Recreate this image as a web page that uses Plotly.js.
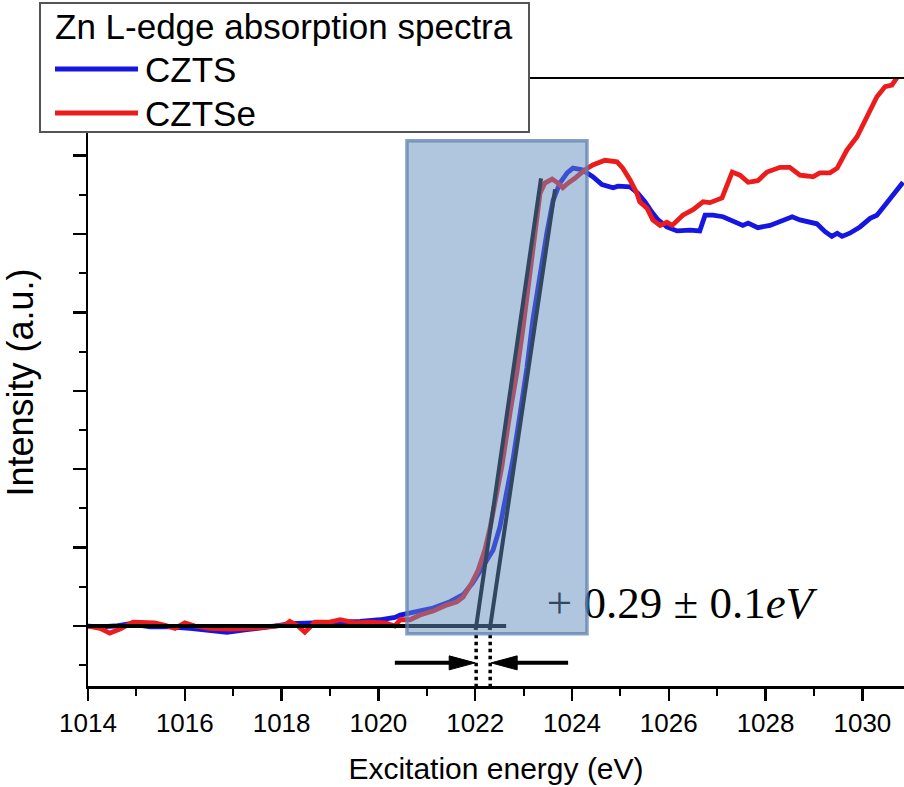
<!DOCTYPE html>
<html>
<head>
<meta charset="utf-8">
<script src="https://cdn.plot.ly/plotly-3.0.1.min.js"></script>
<style>
  html, body { margin: 0; padding: 0; background: #fff; }
  #chart { width: 904px; height: 787px; }
</style>
</head>
<body>
<div id="chart"></div>
<script>
// Zn L-edge XAS spectra (normalised intensity vs excitation energy)
const energyCZTS = [1014.0, 1014.25, 1014.56, 1014.87, 1015.28, 1015.69, 1016.11, 1016.52, 1016.87, 1017.24,
  1017.55, 1017.86, 1018.17, 1018.59, 1019.0, 1019.31, 1019.62, 1020.03, 1020.34, 1020.45,
  1020.71, 1021.13, 1021.48, 1021.75, 1021.95, 1022.16, 1022.37, 1022.51, 1022.66, 1022.78,
  1022.93, 1023.07, 1023.19, 1023.34, 1023.48, 1023.61, 1023.75, 1023.9, 1024.02, 1024.21,
  1024.31, 1024.43, 1024.62, 1024.74, 1024.85, 1024.95, 1025.2, 1025.36, 1025.51, 1025.65,
  1025.78, 1025.96, 1026.17, 1026.44, 1026.64, 1026.75, 1026.91, 1027.12, 1027.31, 1027.43,
  1027.53, 1027.64, 1027.84, 1028.09, 1028.36, 1028.55, 1028.71, 1029.06, 1029.23, 1029.37,
  1029.48, 1029.58, 1029.74, 1029.95, 1030.16, 1030.3, 1030.47, 1030.67, 1030.84];
const intensityCZTS = [0.0, -0.01, 0.0, 0.03, -0.01, -0.01, -0.03, -0.05, -0.08, -0.05,
  -0.03, 0.0, 0.03, 0.04, 0.04, 0.06, 0.06, 0.08, 0.11, 0.14,
  0.17, 0.23, 0.31, 0.4, 0.55, 0.75, 0.97, 1.26, 1.7, 2.12,
  2.72, 3.3, 3.9, 4.5, 5.01, 5.43, 5.65, 5.78, 5.84, 5.82,
  5.78, 5.73, 5.63, 5.61, 5.59, 5.61, 5.6, 5.52, 5.41, 5.28,
  5.18, 5.09, 5.04, 5.05, 5.04, 5.24, 5.24, 5.22, 5.17, 5.15,
  5.11, 5.14, 5.08, 5.11, 5.18, 5.22, 5.18, 5.13, 5.03, 4.97,
  5.01, 4.97, 5.01, 5.09, 5.2, 5.24, 5.37, 5.52, 5.66];

const energyCZTSe = [1014.0, 1014.25, 1014.45, 1014.66, 1014.93, 1015.22, 1015.38, 1015.59, 1015.8, 1016.0,
  1016.21, 1016.52, 1016.93, 1017.35, 1017.76, 1018.07, 1018.17, 1018.34, 1018.48, 1018.69,
  1019.0, 1019.21, 1019.52, 1019.83, 1020.14, 1020.34, 1020.45, 1020.65, 1020.86, 1021.13,
  1021.42, 1021.62, 1021.75, 1021.93, 1022.06, 1022.2, 1022.31, 1022.41, 1022.55, 1022.72,
  1022.86, 1022.99, 1023.13, 1023.24, 1023.34, 1023.44, 1023.59, 1023.71, 1023.81, 1023.92,
  1024.06, 1024.27, 1024.43, 1024.68, 1024.93, 1025.05, 1025.2, 1025.34, 1025.4, 1025.55,
  1025.67, 1025.82, 1025.96, 1026.07, 1026.29, 1026.5, 1026.71, 1026.85, 1027.0, 1027.1,
  1027.31, 1027.47, 1027.64, 1027.84, 1028.03, 1028.3, 1028.5, 1028.71, 1028.86, 1028.98,
  1029.12, 1029.33, 1029.48, 1029.68, 1029.89, 1030.1, 1030.3, 1030.47, 1030.61, 1030.71, 1030.84];
const intensityCZTSe = [0.0, -0.03, -0.09, -0.04, 0.05, 0.05, 0.04, 0.01, -0.03, 0.04,
  0.0, -0.03, -0.04, -0.03, 0.0, 0.01, 0.06, 0.0, -0.08, 0.05,
  0.05, 0.08, 0.04, 0.05, 0.04, 0.0, 0.08, 0.08, 0.14, 0.19,
  0.27, 0.31, 0.37, 0.55, 0.71, 0.97, 1.26, 1.61, 2.03, 2.72,
  3.23, 3.81, 4.5, 5.09, 5.52, 5.65, 5.7, 5.65, 5.59, 5.65,
  5.71, 5.82, 5.88, 5.94, 5.92, 5.84, 5.69, 5.52, 5.41, 5.33,
  5.18, 5.11, 5.15, 5.11, 5.24, 5.31, 5.41, 5.4, 5.43, 5.46,
  5.79, 5.75, 5.66, 5.68, 5.79, 5.85, 5.85, 5.75, 5.74, 5.73,
  5.78, 5.78, 5.84, 6.07, 6.24, 6.49, 6.75, 6.88, 6.9, 6.99, 7.3];

// Pre-edge baseline and linear fits of the leading edge
const baselineX = [1014.0, 1022.64];
const baselineY = [0, 0];
const edgeFitCZTSeX = [1022.01, 1023.36];
const edgeFitCZTSeY = [-0.05, 5.71];
const edgeFitCZTSX = [1022.30, 1023.65];
const edgeFitCZTSY = [-0.05, 5.57];

// Edge onsets (intercepts of the fits with the baseline), eV
const onsetEnergies = [1022.02, 1022.31];
const shiftLabel = '+ 0.29 ± 0.1<i>eV</i>';
const shiftLabelPos = [1023.48, 0.25];

// Highlighted edge window
const edgeWindowX = [1020.59, 1024.31];
const edgeWindowY = [-0.10, 6.19];

// Arrows pointing at the onsets: [tail, tip] in eV, at a common height
const arrowLeft = [1020.34, 1022.00];
const arrowRight = [1023.92, 1022.33];
const arrowLevel = -0.47;

const xRange = [1014, 1030.86];
const yRange = [-0.765, 6.977];
const xTickVals = [1014, 1016, 1018, 1020, 1022, 1024, 1026, 1028, 1030];

const W = 904, H = 787;
const M = { l: 88, r: 0, t: 79, b: 101 };
const plotW = W - M.l - M.r, plotH = H - M.t - M.b;
const evPerPx = (xRange[1] - xRange[0]) / plotW;
const unitPerPx = (yRange[1] - yRange[0]) / plotH;
const px2paperX = p => (p - M.l) / plotW;
const px2paperY = p => (H - M.b - p) / plotH;

const SANS = 'Liberation Sans, Arial, sans-serif';
const BLUE = '#1616e2';
const RED = '#ec1c1c';

const traces = [
  { x: energyCZTS, y: intensityCZTS, name: 'CZTS', mode: 'lines',
    line: { color: BLUE, width: 4.8 } },
  { x: energyCZTSe, y: intensityCZTSe, name: 'CZTSe', mode: 'lines',
    line: { color: RED, width: 4.8 } },
  { x: baselineX, y: baselineY, mode: 'lines', line: { color: '#000', width: 4 } },
  { x: edgeFitCZTSeX, y: edgeFitCZTSeY, mode: 'lines', line: { color: '#000', width: 4 } },
  { x: edgeFitCZTSX, y: edgeFitCZTSY, mode: 'lines', line: { color: '#000', width: 4 } },
  { x: [shiftLabelPos[0]], y: [shiftLabelPos[1]], mode: 'text', text: [shiftLabel],
    textposition: 'middle right',
    textfont: { family: 'Liberation Serif, Times New Roman, serif', size: 45, color: '#000' } }
];

const shapes = [];
// dotted drop lines from the onsets to the energy axis
onsetEnergies.forEach(e => {
  shapes.push({ type: 'line', xref: 'x', yref: 'y', x0: e, x1: e, y0: -0.11, y1: yRange[0],
    line: { color: '#000', width: 3.5, dash: 'dot' }, layer: 'above' });
});
// arrows
const headLen = 26 * evPerPx, headHalf = 7 * unitPerPx;
[arrowLeft, arrowRight].forEach(([tail, tip]) => {
  const dir = Math.sign(tip - tail);
  const base = tip - dir * headLen;
  shapes.push({ type: 'line', xref: 'x', yref: 'y', x0: tail, x1: base + dir * 2 * evPerPx,
    y0: arrowLevel, y1: arrowLevel, line: { color: '#000', width: 4 }, layer: 'above' });
  shapes.push({ type: 'path', xref: 'x', yref: 'y',
    path: `M${tip},${arrowLevel} L${base},${arrowLevel + headHalf} L${base},${arrowLevel - headHalf} Z`,
    fillcolor: '#000', line: { color: '#000', width: 1 }, layer: 'above' });
});
// translucent window over the edge region
shapes.push({ type: 'rect', xref: 'x', yref: 'y',
  x0: edgeWindowX[0], x1: edgeWindowX[1], y0: edgeWindowY[0], y1: edgeWindowY[1],
  fillcolor: 'rgba(98,140,190,0.5)', line: { color: 'rgba(95,130,178,0.75)', width: 3.5 },
  layer: 'above' });

// legend box with title and line samples
shapes.push({ type: 'rect', xref: 'paper', yref: 'paper',
  x0: px2paperX(40), x1: px2paperX(529), y0: px2paperY(132), y1: px2paperY(3),
  fillcolor: '#fff', line: { color: '#555', width: 2 }, layer: 'above' });
const legendRows = [
  { name: 'CZTS', color: BLUE, y: 69 },
  { name: 'CZTSe', color: RED, y: 113 }
];
legendRows.forEach(r => {
  shapes.push({ type: 'line', xref: 'paper', yref: 'paper',
    x0: px2paperX(55), x1: px2paperX(138), y0: px2paperY(r.y), y1: px2paperY(r.y),
    line: { color: r.color, width: 5 }, layer: 'above' });
});

const annotations = [
  { xref: 'paper', yref: 'paper', x: px2paperX(53), y: px2paperY(27), xanchor: 'left', yanchor: 'middle',
    text: 'Zn L-edge absorption spectra', showarrow: false,
    font: { family: SANS, size: 35, color: '#000' } }
];
legendRows.forEach(r => {
  annotations.push({ xref: 'paper', yref: 'paper', x: px2paperX(143), y: px2paperY(r.y), xanchor: 'left',
    yanchor: 'middle', text: r.name, showarrow: false,
    font: { family: SANS, size: 35, color: '#000' } });
});

const layout = {
  width: W, height: H,
  margin: M,
  paper_bgcolor: '#fff', plot_bgcolor: '#fff',
  showlegend: false,
  font: { family: SANS, color: '#000' },
  xaxis: {
    range: xRange, tickmode: 'array', tickvals: xTickVals, ticktext: xTickVals.map(String),
    ticks: 'outside', ticklen: 12, tickwidth: 2.5, tickcolor: '#000',
    minor: { dtick: 1, tick0: 1014, ticks: 'outside', ticklen: 7, tickwidth: 2, tickcolor: '#000' },
    showline: true, linecolor: '#000', linewidth: 2.5, mirror: true,
    showgrid: false, zeroline: false,
    tickfont: { family: SANS, size: 26, color: '#000' },
    title: { text: 'Excitation energy (eV)', standoff: 22,
      font: { family: SANS, size: 30, color: '#000' } }
  },
  yaxis: {
    range: yRange, dtick: 1, tick0: 0, showticklabels: false,
    ticks: 'outside', ticklen: 13, tickwidth: 2.5, tickcolor: '#000',
    minor: { dtick: 0.5, tick0: 0, ticks: 'outside', ticklen: 7, tickwidth: 2, tickcolor: '#000' },
    showline: true, linecolor: '#000', linewidth: 2.5, mirror: false,
    showgrid: false, zeroline: false,
    title: { text: 'Intensity (a.u.)', standoff: 34,
      font: { family: SANS, size: 36, color: '#000' } }
  },
  shapes: shapes,
  annotations: annotations
};

Plotly.newPlot('chart', traces, layout, { staticPlot: true, displayModeBar: false });
</script>
</body>
</html>
